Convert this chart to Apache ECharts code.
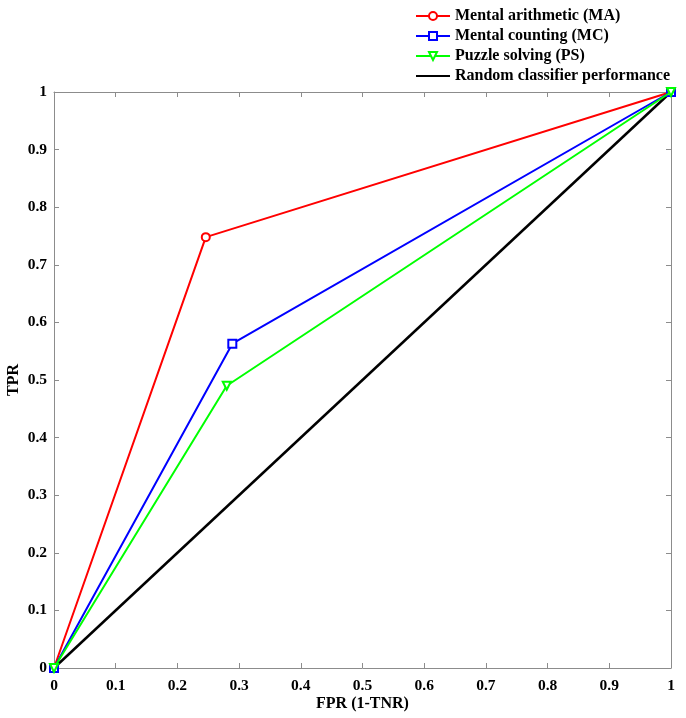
<!DOCTYPE html>
<html><head><meta charset="utf-8">
<script src="https://cdn.jsdelivr.net/npm/echarts@6/dist/echarts.min.js"></script>
<style>html,body{margin:0;padding:0;background:#fff}#c{width:686px;height:718px}</style>
</head><body><div id="c"></div>
<script>
const seriesNames = ['Mental arithmetic (MA)', 'Mental counting (MC)', 'Puzzle solving (PS)', 'Random classifier performance'];
const maPoints = [[0, 0], [0.246, 0.748], [1, 1]];
const mcPoints = [[0, 0], [0.289, 0.563], [1, 1]];
const psPoints = [[0, 0], [0.28, 0.49], [1, 1]];
const randomPoints = [[0, 0], [1, 1]];
const tickValues = [0, 0.1, 0.2, 0.3, 0.4, 0.5, 0.6, 0.7, 0.8, 0.9, 1];

const font = 'Liberation Serif';
const fmt = v => (Math.round(v * 10) / 10).toString();
const axisCommon = {
  min: 0, max: 1, interval: 0.1,
  axisLine: { show: true, onZero: false, lineStyle: { color: '#8c8c8c', width: 1 } },
  axisTick: { show: true, inside: true, length: 5, lineStyle: { color: '#8c8c8c' } },
  splitLine: { show: false }
};
const chart = echarts.init(document.getElementById('c'));
chart.setOption({
  animation: false,
  backgroundColor: '#fff',
  grid: { left: 54, right: 15, top: 92, bottom: 50, show: false, containLabel: false, outerBoundsMode: 'none' },
  legend: {
    orient: 'vertical', left: 410, top: 3, itemGap: 4,
    itemWidth: 34, itemHeight: 10,
    textStyle: { fontFamily: font, fontWeight: 'bold', fontSize: 16, color: '#000' },
    data: seriesNames
  },
  xAxis: [
    Object.assign({}, axisCommon, {
      type: 'value', position: 'bottom',
      name: 'FPR (1-TNR)', nameLocation: 'middle', nameGap: 28, nameMoveOverlap: false,
      nameTextStyle: { fontFamily: font, fontWeight: 'bold', fontSize: 16, color: '#000' },
      axisLabel: { margin: 10, fontFamily: font, fontWeight: 'bold', fontSize: 15.5, color: '#000', formatter: fmt }
    }),
    Object.assign({}, axisCommon, { type: 'value', position: 'top', axisLabel: { show: false } })
  ],
  yAxis: [
    Object.assign({}, axisCommon, {
      type: 'value', position: 'left',
      name: 'TPR', nameLocation: 'middle', nameGap: 32, nameMoveOverlap: false,
      nameTextStyle: { fontFamily: font, fontWeight: 'bold', fontSize: 16, color: '#000' },
      axisLabel: { margin: 7, fontFamily: font, fontWeight: 'bold', fontSize: 15.5, color: '#000', formatter: fmt }
    }),
    Object.assign({}, axisCommon, { type: 'value', position: 'right', axisLabel: { show: false } })
  ],
  series: [
    { name: seriesNames[0], type: 'line', data: maPoints, symbol: 'emptyCircle', symbolSize: 8,
      itemStyle: { color: '#ff0000', borderWidth: 1.5 }, lineStyle: { color: '#ff0000', width: 2 }, z: 4 },
    { name: seriesNames[1], type: 'line', data: mcPoints, symbol: 'emptyRect', symbolSize: 8,
      itemStyle: { color: '#0000ff', borderWidth: 1.5 }, lineStyle: { color: '#0000ff', width: 2 }, z: 4 },
    { name: seriesNames[2], type: 'line', data: psPoints, symbol: 'emptyTriangle', symbolRotate: 180, symbolSize: 8,
      itemStyle: { color: '#00ff00', borderWidth: 1.5 }, lineStyle: { color: '#00ff00', width: 2 }, z: 5 },
    { name: seriesNames[3], type: 'line', data: randomPoints, symbol: 'circle', symbolSize: 0, showSymbol: false,
      itemStyle: { color: '#000', opacity: 0 }, lineStyle: { color: '#000', width: 2.5, opacity: 1 }, z: 3 }
  ]
});
</script></body></html>
